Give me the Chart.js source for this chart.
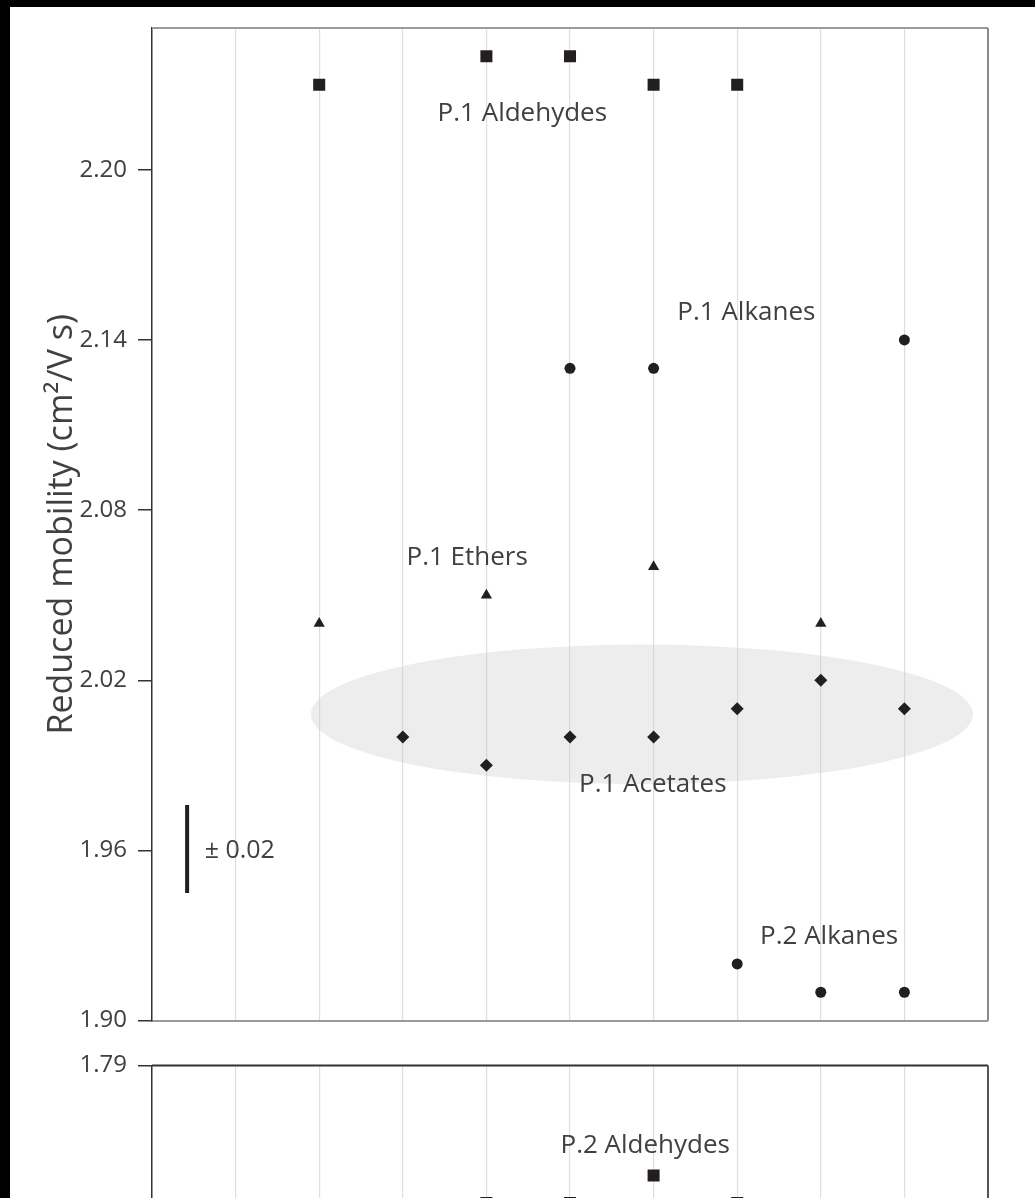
<!DOCTYPE html>
<html>
<head>
<meta charset="utf-8">
<script src="https://cdn.jsdelivr.net/npm/chart.js@4.4.1/dist/chart.umd.min.js"></script>
<style>
  html, body { margin: 0; padding: 0; background: #000; overflow: hidden; }
  #page { position: relative; width: 1035px; height: 1198px; }
  #paper { position: absolute; left: 10px; top: 7px; right: 0; bottom: 0; background: #fff; }
  canvas { position: absolute; left: 0; }
  #upper { top: 0; }
  #lower { top: 1040px; }
</style>
</head>
<body>
<div id="page">
  <div id="paper"></div>
  <canvas id="upper" width="1035" height="1046"></canvas>
  <canvas id="lower" width="1035" height="381"></canvas>
</div>
<script>
// values, x = position along the category grid
const p1AldehydesX = [2, 4, 5, 6, 7];
const p1AldehydesY = [2.23, 2.24, 2.24, 2.23, 2.23];
const p1AlkanesX = [5, 6, 9];
const p1AlkanesY = [2.13, 2.13, 2.14];
const p1EthersX = [2, 4, 6, 8];
const p1EthersY = [2.04, 2.05, 2.06, 2.04];
const p1AcetatesX = [3, 4, 5, 6, 7, 8, 9];
const p1AcetatesY = [2.00, 1.99, 2.00, 2.00, 2.01, 2.02, 2.01];
const p2AlkanesX = [7, 8, 9];
const p2AlkanesY = [1.92, 1.91, 1.91];
const p2AldehydesX = [4, 5, 6, 7];
const p2AldehydesY = [1.74, 1.74, 1.75, 1.74];

// error bar (± 0.02) drawn as a short line
const errorBarX = [0.42, 0.42];
const errorBarY = [1.945, 1.976];

const upperTicks = [1.90, 1.96, 2.02, 2.08, 2.14, 2.20];
const lowerTicks = [1.67, 1.73, 1.79];

const markColor = '#231f20';
const textColor = '#404040';
const gridColor = '#dedede';
const fontFamily = '"Open Sans", "DejaVu Sans", sans-serif';

function toPoints(xs, ys) {
    return xs.map(function(x, i) { return { x: x, y: ys[i] }; });
}

function series(xs, ys, style, radius) {
    return {
        data: toPoints(xs, ys),
        pointStyle: style,
        pointRadius: radius,
        backgroundColor: markColor,
        borderColor: markColor,
        borderWidth: 0,
        showLine: false
    };
}

// grey outline on the sides that are not axes, plus shaded ellipse and text labels
const decorPlugin = {
    id: 'decor',
    beforeDatasetsDraw: function(chart, args, opts) {
        const ctx = chart.ctx;
        const xs = chart.scales.x, ys = chart.scales.y;
        const a = chart.chartArea;
        ctx.save();
        (opts.ellipses || []).forEach(function(e) {
            const cx = xs.getPixelForValue(e.x), cy = ys.getPixelForValue(e.y);
            const rx = Math.abs(xs.getPixelForValue(e.x + e.rx) - cx);
            const ry = Math.abs(ys.getPixelForValue(e.y + e.ry) - cy);
            ctx.fillStyle = 'rgba(200,200,200,0.33)';
            ctx.beginPath();
            ctx.ellipse(cx, cy, rx, ry, 0, 0, Math.PI * 2);
            ctx.fill();
        });
        ctx.lineWidth = 2;
        ctx.strokeStyle = opts.topColor;
        ctx.beginPath();
        ctx.moveTo(a.left, a.top);
        ctx.lineTo(a.right, a.top);
        ctx.stroke();
        ctx.strokeStyle = opts.rightColor;
        ctx.beginPath();
        ctx.moveTo(a.right, a.top);
        ctx.lineTo(a.right, a.bottom);
        ctx.stroke();
        ctx.restore();
    },
    afterDatasetsDraw: function(chart, args, opts) {
        const ctx = chart.ctx;
        const xs = chart.scales.x, ys = chart.scales.y;
        ctx.save();
        ctx.fillStyle = textColor;
        ctx.textBaseline = 'middle';
        (opts.labels || []).forEach(function(l) {
            ctx.font = l.size + 'px ' + fontFamily;
            ctx.textAlign = l.align || 'center';
            ctx.fillText(l.text, xs.getPixelForValue(l.x), ys.getPixelForValue(l.y));
        });
        ctx.restore();
    }
};

function makeOptions(min, max, ticks, title, decor) {
    return {
        responsive: false,
        animation: false,
        layout: { padding: decor.padding },
        plugins: {
            legend: { display: false },
            tooltip: { enabled: false },
            decor: decor
        },
        scales: {
            x: {
                type: 'linear',
                min: 0,
                max: 10,
                ticks: { stepSize: 1, display: false },
                grid: { color: gridColor, lineWidth: 1.2, drawTicks: false },
                border: { display: decor.bottomBorder, color: '#9a9a9a', width: 2 },
                afterFit: function(scale) { scale.height = 0; }
            },
            y: {
                type: 'linear',
                min: min,
                max: max,
                afterBuildTicks: function(scale) {
                    scale.ticks = ticks.map(function(v) { return { value: v }; });
                },
                afterFit: function(scale) { scale.width = 152; },
                ticks: {
                    color: textColor,
                    padding: 11,
                    font: { family: fontFamily, size: 24 },
                    callback: function(v) { return Number(v).toFixed(2); }
                },
                grid: {
                    drawOnChartArea: false,
                    drawTicks: true,
                    tickLength: 14,
                    color: '#333',
                    lineWidth: 1.5
                },
                border: { display: true, color: '#333', width: 1.5 },
                title: {
                    display: !!title,
                    text: title,
                    color: textColor,
                    font: { family: fontFamily, size: 34 },
                    padding: { top: 42, bottom: 0 }
                }
            }
        }
    };
}

const errorBar = {
    data: toPoints(errorBarX, errorBarY),
    showLine: true,
    borderColor: markColor,
    borderWidth: 4,
    pointRadius: 0,
    borderCapStyle: 'butt'
};

new Chart(document.getElementById('upper'), {
    type: 'scatter',
    data: {
        datasets: [
            series(p1AldehydesX, p1AldehydesY, 'rect', 8.5),
            series(p1AlkanesX, p1AlkanesY, 'circle', 5.5),
            series(p1EthersX, p1EthersY, 'triangle', 6.5),
            series(p1AcetatesX, p1AcetatesY, 'rectRot', 6.5),
            series(p2AlkanesX, p2AlkanesY, 'circle', 5.5),
            errorBar
        ]
    },
    options: makeOptions(1.90, 2.25, upperTicks, 'Reduced mobility (cm\u00b2/V s)', {
        padding: { top: 28, right: 47, bottom: 21, left: 0 },
        topColor: '#9a9a9a',
        rightColor: '#8a8a8a',
        bottomBorder: true,
        ellipses: [{ x: 5.86, y: 2.008, rx: 3.96, ry: 0.0246 }],
        labels: [
            { text: 'P.1 Aldehydes', x: 4.43, y: 2.2198, size: 26 },
            { text: 'P.1 Alkanes', x: 7.11, y: 2.1495, size: 26 },
            { text: 'P.1 Ethers', x: 3.77, y: 2.0634, size: 26 },
            { text: 'P.1 Acetates', x: 5.99, y: 1.9833, size: 26 },
            { text: 'P.2 Alkanes', x: 8.10, y: 1.9296, size: 26 },
            { text: '\u00b1 0.02', x: 0.63, y: 1.96, size: 25, align: 'left' }
        ]
    }),
    plugins: [decorPlugin]
});

new Chart(document.getElementById('lower'), {
    type: 'scatter',
    data: {
        datasets: [
            series(p2AldehydesX, p2AldehydesY, 'rect', 8.5)
        ]
    },
    options: makeOptions(1.67, 1.79, lowerTicks, '', {
        padding: { top: 21, right: 47, bottom: 20, left: 0 },
        topColor: '#333',
        rightColor: '#555',
        bottomBorder: true,
        labels: [
            { text: 'P.2 Aldehydes', x: 5.90, y: 1.761, size: 26 }
        ]
    }),
    plugins: [decorPlugin]
});
</script>
</body>
</html>
